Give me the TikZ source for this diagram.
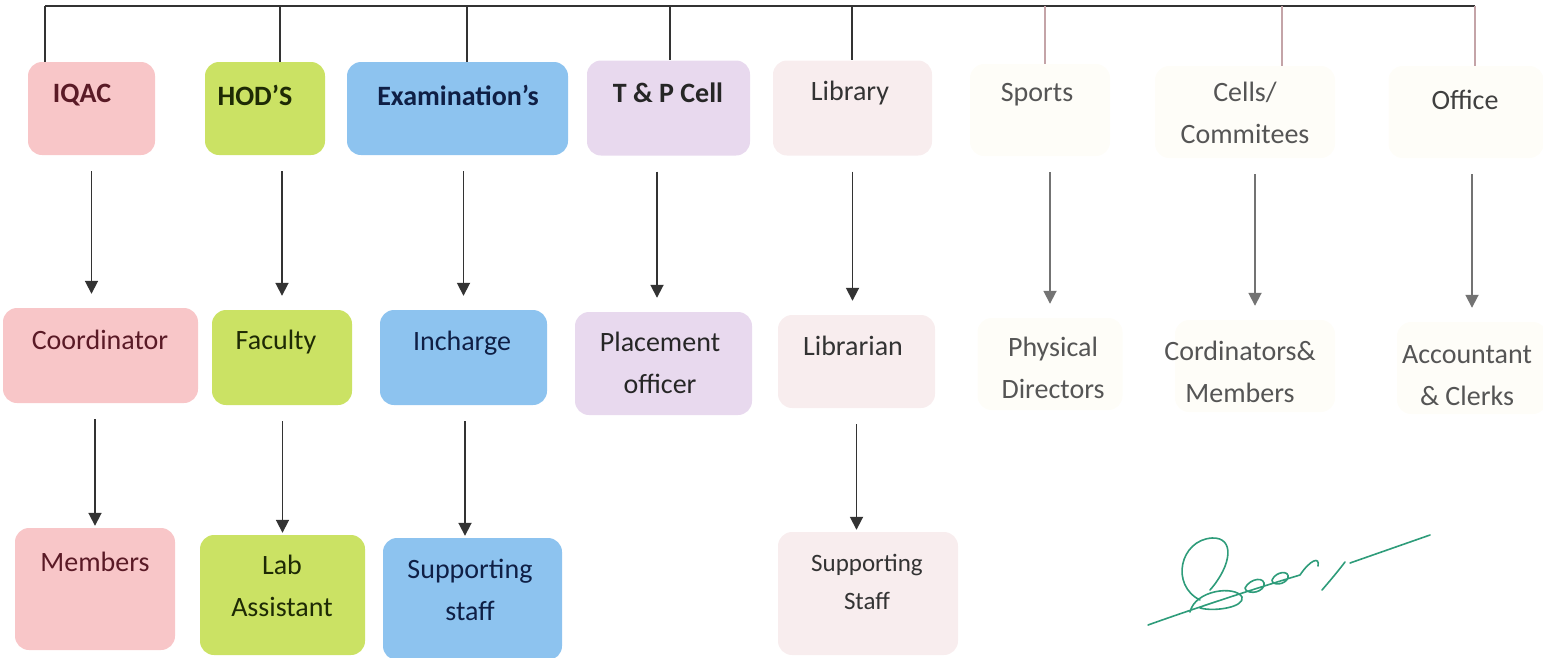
\documentclass[tikz,border=0pt]{standalone}
\usepackage{fontspec}
\setmainfont{Carlito}
\usetikzlibrary{arrows.meta}

\definecolor{iqacpink}{HTML}{F8C6C8}
\definecolor{iqactext}{HTML}{5A1A26}
\definecolor{hodlime}{HTML}{CBE264}
\definecolor{hodtext}{HTML}{1E2A05}
\definecolor{exblue}{HTML}{8DC3EF}
\definecolor{extext}{HTML}{0F1F45}
\definecolor{tplav}{HTML}{E8D9EE}
\definecolor{libpink}{HTML}{F8EDEE}
\definecolor{faintbox}{HTML}{FEFDF8}
\definecolor{fainttext}{HTML}{555555}
\definecolor{faintline}{HTML}{C4A4A8}
\definecolor{signgreen}{HTML}{2E9C7A}

\tikzset{
  unitbox/.style={rounded corners=14pt, minimum width=#1, inner sep=0pt},
  lbl/.style={font=\fontsize{28}{42}\selectfont, align=center, inner sep=0pt},
  bold/.style={lbl, font=\fontsize{28}{42}\selectfont\bfseries},
  arr/.style={-{Triangle[width=13pt,length=13pt]}, line width=1.8pt, draw=black!80, shorten <=16pt, shorten >=14pt},
  farr/.style={arr, draw=black!55},
  drop/.style={line width=1.8pt, draw=black!80},
  fdrop/.style={line width=1.5pt, draw=faintline}
}

\begin{document}
\begin{tikzpicture}[x=1pt, y=-1pt]
\useasboundingbox (0,0) rectangle (1543,657);

% top row
\node[unitbox=127pt, minimum height=93pt, fill=iqacpink] (iqac) at (91.5,108.5){};
\node[unitbox=120pt, minimum height=93pt, fill=hodlime] (hod) at (265,108.5){};
\node[unitbox=221pt, minimum height=93pt, fill=exblue] (exam) at (457.5,108.5){};
\node[unitbox=163pt, minimum height=95pt, fill=tplav] (tp) at (668.5,108){};
\node[unitbox=159pt, minimum height=95pt, fill=libpink] (lib) at (852.5,108){};
\node[unitbox=140pt, minimum height=92pt, fill=faintbox] (sports) at (1040,110){};
\node[unitbox=180pt, minimum height=92pt, fill=faintbox] (cells) at (1245,112){};
\node[unitbox=155pt, minimum height=92pt, fill=faintbox] (office) at (1466,112){};

\node[bold, text=iqactext] (iqac-t) at (82,95){IQAC};
\node[bold, text=hodtext] (hod-t) at (255,95){HOD’S};
\node[bold, text=extext] (exam-t) at (458,95){Examination’s};
\node[bold, text=black!85] (tp-t) at (668,93){T \& P Cell};
\node[lbl, text=black!80] (lib-t) at (850,93){Library};
\node[lbl, text=fainttext] (sports-t) at (1037,95){Sports};
\node[lbl, text=fainttext] (cells-t) at (1245,113){Cells/\\Commitees};
\node[lbl, text=black!75] (office-t) at (1465,100){Office};

% bar over the top row
\coordinate (bar-iqac) at (45,6);
\coordinate (bar-office) at (1475,6);
\draw[drop] (bar-iqac) -- (bar-office);
\draw[drop] (bar-iqac) -- (bar-iqac |- iqac.north);
\draw[drop] (280,6) -- (280,0 |- hod.north);
\draw[drop] (467,6) -- (467,0 |- exam.north);
\draw[drop] (670,6) -- (670,0 |- tp.north);
\draw[drop] (852,6) -- (852,0 |- lib.north);
\draw[fdrop] (1045,6) -- (1045,0 |- sports.north);
\draw[fdrop] (1282,6) -- (1282,0 |- cells.north);
\draw[fdrop] (bar-office) -- (bar-office |- office.north);

% second row
\node[unitbox=195pt, minimum height=95pt, fill=iqacpink] (coord) at (100.5,355.5){};
\node[unitbox=140pt, minimum height=95pt, fill=hodlime] (fac) at (282,357.5){};
\node[unitbox=167pt, minimum height=95pt, fill=exblue] (inch) at (463.5,357.5){};
\node[unitbox=177pt, minimum height=103pt, fill=tplav] (place) at (663.5,363.5){};
\node[unitbox=157pt, minimum height=93pt, fill=libpink] (libn) at (856.5,361.5){};
\node[unitbox=145pt, minimum height=92pt, fill=faintbox] (phys) at (1050,364){};
\node[unitbox=160pt, minimum height=92pt, fill=faintbox] (cord) at (1255,366){};
\node[unitbox=150pt, minimum height=92pt, fill=faintbox] (acct) at (1472,368){};

\node[lbl, text=iqactext] (coord-t) at (100,340){Coordinator};
\node[lbl, text=hodtext] (fac-t) at (276,342){Faculty};
\node[lbl, text=extext] (inch-t) at (462,343){Incharge};
\node[lbl, text=black!85] (place-t) at (660,363){Placement\\officer};
\node[lbl, text=black!80] (libn-t) at (853,346){Librarian};
\node[lbl, text=fainttext] (phys-t) at (1053,368){Physical\\Directors};
\node[lbl, text=fainttext] (cord-t) at (1240,372){Cordinators\&\\Members};
\node[lbl, text=fainttext] (acct-t) at (1467,376){Accountant\\\& Clerks};

\draw[arr] (iqac.south) -- (iqac.south |- coord.north);
\draw[arr] (hod.south -| fac.north) -- (fac.north);
\draw[arr] (exam.south -| inch.north) -- (inch.north);
\draw[arr] (tp.south -| 657,0) -- (place.north -| 657,0);
\draw[arr] (lib.south) -- (lib.south |- libn.north);
\draw[farr] (sports.south -| phys.north) -- (phys.north);
\draw[farr] (cells.south -| cord.north) -- (cord.north);
\draw[farr] (office.south -| acct.north) -- (acct.north);

% third row
\node[unitbox=160pt, minimum height=122pt, fill=iqacpink] (mem) at (95,589){};
\node[unitbox=165pt, minimum height=120pt, fill=hodlime] (lab) at (282.5,595){};
\node[unitbox=179pt, minimum height=122pt, fill=exblue] (sup) at (472.5,599){};
\node[unitbox=180pt, minimum height=123pt, fill=libpink] (libsup) at (868,593.5){};

\node[lbl, text=iqactext] (mem-t) at (95,562){Members};
\node[lbl, text=hodtext] (lab-t) at (282,586){Lab\\Assistant};
\node[lbl, text=extext] (sup-t) at (470,590){Supporting\\staff};
\node[lbl, text=black!80, font=\fontsize{25}{38}\selectfont] (libsup-t) at (867,582){Supporting\\Staff};

\draw[arr, shorten >=2pt] (coord.south -| mem.north) -- (mem.north);
\draw[arr, shorten >=2pt] (fac.south -| lab.north) -- (lab.north);
\draw[arr, shorten >=2pt] (inch.south -| 465,0) -- (sup.north -| 465,0);
\draw[arr, shorten >=2pt] (libn.south) -- (libn.south |- libsup.north);

% signature
\draw[signgreen, line width=1.6pt, line cap=round]
  (1148,625) .. controls (1190,610) and (1250,590) .. (1300,575)
  (1200,600) .. controls (1170,585) and (1180,540) .. (1212,538) .. controls (1235,537) and (1232,565) .. (1210,590)
  (1190,612) .. controls (1195,590) and (1235,585) .. (1242,597) .. controls (1245,607) and (1215,612) .. (1200,608)
  (1245,588) .. controls (1250,578) and (1266,576) .. (1264,586) .. controls (1260,594) and (1246,594) .. (1245,588)
  (1272,580) .. controls (1276,571) and (1290,570) .. (1288,578) .. controls (1285,585) and (1272,586) .. (1272,580)
  (1300,575) .. controls (1310,560) and (1320,556) .. (1318,566)
  (1345,562) .. controls (1335,575) and (1328,583) .. (1322,590)
  (1350,563) -- (1430,535);
\end{tikzpicture}
\end{document}
